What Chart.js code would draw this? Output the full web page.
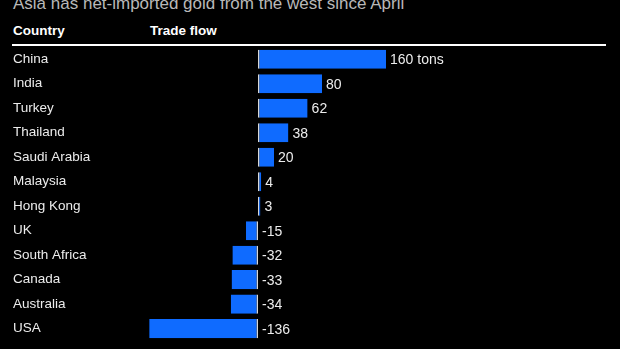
<!DOCTYPE html>
<html>
<head>
<meta charset="utf-8">
<script src="https://cdn.jsdelivr.net/npm/chart.js@4"></script>
<style>
  html, body { margin: 0; padding: 0; background: #000; }
  #wrap { position: relative; width: 620px; height: 349px; overflow: hidden; background: #000; }
  #title { position: absolute; left: 13px; top: -6px; font: 17px "Liberation Sans", Arial, sans-serif; color: #b8b8b8; white-space: nowrap; }
  .head { position: absolute; top: 23px; font: bold 13.5px "Liberation Sans", Arial, sans-serif; color: #fff; }
  #rule { position: absolute; left: 12px; top: 44px; width: 594px; height: 2px; background: #fff; }
  canvas { position: absolute; left: 0; top: 0; }
</style>
</head>
<body>
<div id="wrap">
  <div id="title">Asia has net-imported gold from the west since April</div>
  <div class="head" style="left:13px">Country</div>
  <div class="head" style="left:150px">Trade flow</div>
  <div id="rule"></div>
  <canvas id="chart" width="620" height="349"></canvas>
</div>
<script>
const countries = ['China', 'India', 'Turkey', 'Thailand', 'Saudi Arabia', 'Malaysia',
  'Hong Kong', 'UK', 'South Africa', 'Canada', 'Australia', 'USA'];
const flows = [160, 80, 62, 38, 20, 4, 3, -15, -32, -33, -34, -136];
const unit = 'tons';

const barBlue = '#0f6bff';
const textColor = '#ececec';
const fontFamily = '"Liberation Sans", Arial, sans-serif';

// value next to each bar, outside the end for imports, beside the zero line for exports
const valueLabels = {
  id: 'valueLabels',
  afterDatasetsDraw(chart) {
    const ctx = chart.ctx;
    const meta = chart.getDatasetMeta(0);
    const zero = chart.scales.x.getPixelForValue(0);
    ctx.save();
    ctx.font = '14px ' + fontFamily;
    ctx.fillStyle = textColor;
    ctx.textBaseline = 'middle';
    ctx.textAlign = 'left';
    meta.data.forEach((bar, i) => {
      const v = flows[i];
      const text = i === 0 ? v + ' ' + unit : String(v);
      const x = v >= 0 ? bar.x + 4 : zero + 4;
      ctx.fillText(text, x, bar.y + 1);
    });
    ctx.restore();
  }
};

new Chart(document.getElementById('chart'), {
  type: 'bar',
  data: {
    labels: countries,
    datasets: [{
      data: flows,
      backgroundColor: barBlue,
      borderColor: '#d8d8d8',
      borderSkipped: false,
      borderWidth: c => (c.raw >= 0
        ? { left: 1.5, right: 0, top: 0, bottom: 0 }
        : { left: 0, right: 1.5, top: 0, bottom: 0 }),
      categoryPercentage: 1,
      barPercentage: 0.78
    }]
  },
  options: {
    indexAxis: 'y',
    responsive: false,
    devicePixelRatio: 1,
    animation: false,
    layout: { padding: { left: 13, right: 202, top: 47, bottom: 4.5 } },
    plugins: { legend: { display: false }, tooltip: { enabled: false } },
    scales: {
      x: { display: false, min: -140, max: 200 },
      y: {
        grid: { display: false },
        border: { display: false },
        afterFit: s => { s.width = 133; },
        ticks: {
          crossAlign: 'far',
          padding: 0,
          color: textColor,
          font: { family: fontFamily, size: 13.5 }
        }
      }
    }
  },
  plugins: [valueLabels]
});
</script>
</body>
</html>
